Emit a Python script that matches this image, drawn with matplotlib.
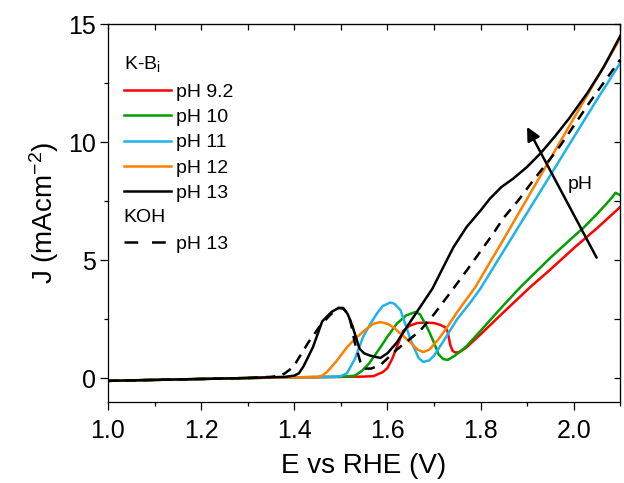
import matplotlib
matplotlib.use("Agg")
import matplotlib.pyplot as plt
from matplotlib.lines import Line2D
from matplotlib.ticker import MultipleLocator

plt.rcParams['font.family'] = ['Liberation Sans', 'DejaVu Sans']
plt.rcParams['mathtext.fontset'] = 'custom'
plt.rcParams['mathtext.rm'] = 'Liberation Sans'
plt.rcParams['mathtext.it'] = 'Liberation Sans'

# ---------------- data ----------------
E_red = [1.00, 1.10, 1.20, 1.30, 1.40, 1.50, 1.55, 1.57, 1.59, 1.60, 1.61, 1.624, 1.634, 1.648,
         1.664, 1.68, 1.70, 1.714, 1.724, 1.729, 1.735, 1.74, 1.746, 1.755, 1.77, 1.80, 1.85,
         1.907, 1.95, 2.00, 2.05, 2.10]
J_red = [-0.12, -0.08, -0.04, 0.0, 0.03, 0.05, 0.06, 0.08, 0.25, 0.42, 0.8, 1.5, 2.0, 2.22,
         2.33, 2.35, 2.33, 2.25, 2.15, 2.0, 1.4, 1.15, 1.08, 1.1, 1.3, 1.85, 2.8,
         3.86, 4.6, 5.5, 6.35, 7.25]

E_green = [1.00, 1.10, 1.20, 1.30, 1.40, 1.50, 1.53, 1.545, 1.56, 1.585, 1.60, 1.62, 1.64, 1.66,
           1.67, 1.68, 1.69, 1.70, 1.71, 1.72, 1.73, 1.745, 1.77, 1.80, 1.85, 1.886, 1.95,
           2.00, 2.02, 2.05, 2.08, 2.09, 2.10]
J_green = [-0.12, -0.08, -0.04, 0.0, 0.03, 0.05, 0.1, 0.3, 0.6, 1.3, 1.75, 2.3, 2.65, 2.8,
           2.7, 2.35, 1.95, 1.5, 1.0, 0.8, 0.77, 0.95, 1.35, 2.0, 3.1, 3.86, 5.1,
           6.0, 6.35, 6.95, 7.6, 7.85, 7.75]

E_blue = [1.00, 1.10, 1.20, 1.30, 1.40, 1.49, 1.50, 1.513, 1.53, 1.548, 1.565, 1.578, 1.59, 1.606,
          1.615, 1.628, 1.64, 1.65, 1.667, 1.677, 1.69, 1.70, 1.72, 1.75, 1.78, 1.80, 1.85,
          1.90, 1.95, 2.00, 2.05, 2.10]
J_blue = [-0.12, -0.08, -0.04, 0.0, 0.03, 0.05, 0.08, 0.2, 0.8, 1.75, 2.35, 2.75, 3.05, 3.2,
          3.15, 2.88, 2.2, 1.6, 0.85, 0.68, 0.75, 0.95, 1.55, 2.5, 3.25, 3.8, 5.4,
          7.0, 8.6, 10.2, 11.8, 13.35]

E_orange = [1.00, 1.10, 1.20, 1.30, 1.40, 1.45, 1.46, 1.47, 1.49, 1.513, 1.53, 1.55, 1.57, 1.585,
            1.60, 1.613, 1.63, 1.65, 1.665, 1.677, 1.69, 1.71, 1.73, 1.75, 1.789, 1.85, 1.90,
            1.95, 2.00, 2.05, 2.10]
J_orange = [-0.12, -0.08, -0.04, 0.0, 0.03, 0.04, 0.1, 0.25, 0.7, 1.3, 1.65, 2.0, 2.3, 2.37,
            2.3, 2.15, 1.85, 1.5, 1.2, 1.1, 1.2, 1.65, 2.2, 2.8, 3.86, 5.9, 7.6,
            9.3, 11.0, 12.7, 14.4]

E_black = [1.00, 1.10, 1.20, 1.30, 1.38, 1.40, 1.41, 1.42, 1.44, 1.46, 1.48, 1.495, 1.505, 1.515,
           1.525, 1.54, 1.55, 1.563, 1.585, 1.60, 1.62, 1.643, 1.67, 1.697, 1.72, 1.742, 1.77,
           1.80, 1.82, 1.845, 1.87, 1.90, 1.93, 1.96, 1.99, 2.03, 2.065, 2.10]
J_black = [-0.12, -0.08, -0.04, 0.0, 0.05, 0.1, 0.2, 0.5, 1.3, 2.4, 2.8, 2.97, 2.97, 2.7,
           2.2, 1.25, 1.05, 0.95, 0.85, 1.05, 1.5, 2.2, 3.0, 3.8, 4.7, 5.55, 6.4,
           7.1, 7.6, 8.1, 8.45, 8.95, 9.55, 10.25, 11.0, 12.1, 13.2, 14.5]

E_koh = [1.00, 1.10, 1.20, 1.30, 1.35, 1.37, 1.38, 1.398, 1.43, 1.455, 1.477, 1.495, 1.505, 1.512,
         1.52, 1.53, 1.542, 1.553, 1.565, 1.585, 1.62, 1.67, 1.70, 1.742, 1.774, 1.825, 1.85,
         1.88, 1.914, 1.95, 1.972, 2.033, 2.10]
J_koh = [-0.12, -0.08, -0.04, 0.0, 0.05, 0.1, 0.2, 0.47, 1.5, 2.2, 2.67, 2.97, 2.95, 2.8,
         2.46, 1.5, 0.68, 0.4, 0.4, 0.55, 1.2, 2.0, 2.7, 3.8, 4.66, 6.06, 6.8,
         7.5, 8.4, 9.3, 9.87, 11.65, 13.5]

labels = ["pH 9.2", "pH 10", "pH 11", "pH 12", "pH 13"]
koh_label = "pH 13"
colors = ["#FF0000", "#00A000", "#1EB4EA", "#FF8000", "#000000"]

arrow_tail = (2.052, 5.0)
arrow_head = (1.897, 10.75)
ph_text_pos = (2.015, 8.2)

# ---------------- figure ----------------
fig = plt.figure(figsize=(6.24, 4.83), dpi=100)
ax = fig.add_axes([0.173, 0.1685, 0.821, 0.7815])

LW = 1.8
series = [(E_red, J_red), (E_green, J_green), (E_blue, J_blue), (E_orange, J_orange), (E_black, J_black)]
handles = []
for (e, j), c, lab in zip(series, colors, labels):
    h, = ax.plot(e, j, color=c, lw=LW, label=lab, solid_joinstyle='round')
    handles.append(h)
hk, = ax.plot(E_koh, J_koh, color='black', lw=LW, dashes=(4.0, 3.0), label=koh_label)
hk_leg = Line2D([], [], color='black', lw=LW, dashes=(5.5, 5.5))

ax.set_xlim(1.0, 2.1)
ax.set_ylim(-1, 15)

for s in ax.spines.values():
    s.set_linewidth(0.9)

ax.xaxis.set_major_locator(MultipleLocator(0.2))
ax.xaxis.set_minor_locator(MultipleLocator(0.1))
ax.yaxis.set_major_locator(MultipleLocator(5))
ax.yaxis.set_minor_locator(MultipleLocator(2.5))
ax.tick_params(which='major', direction='out', length=5.5, width=0.9, labelsize=18, pad=3)
ax.tick_params(axis='x', which='major', pad=7)
ax.tick_params(which='minor', direction='out', length=3, width=0.9)
ax.set_xticklabels([f"{v:.1f}" for v in ax.get_xticks()])

secx = ax.secondary_xaxis('top')
secx.xaxis.set_major_locator(MultipleLocator(0.1))
secx.tick_params(direction='in', length=4.5, width=0.9, labeltop=False)
secy = ax.secondary_yaxis('right')
secy.yaxis.set_major_locator(MultipleLocator(2.5))
secy.tick_params(direction='in', length=4.5, width=0.9, labelright=False)

ax.set_xlabel("E vs RHE (V)", fontsize=20, labelpad=7)
ax.set_ylabel("J (mAcm$^{-2}$)", fontsize=20, labelpad=5)

# legend
blank = Line2D([], [], linestyle='none')
leg = ax.legend(handles + [blank, hk_leg], labels + ["", koh_label],
                loc='upper left', bbox_to_anchor=(0.031, 0.844), frameon=False,
                fontsize=14, handlelength=2.42, handletextpad=0.26, labelspacing=0.4,
                borderaxespad=0.0, borderpad=0.0)
ax.text(0.031, 0.894, "K-B$_\\mathregular{i}$", transform=ax.transAxes, fontsize=14, va='center', ha='left')
ax.text(0.031, 0.489, "KOH", transform=ax.transAxes, fontsize=14, va='center', ha='left')

ax.annotate("", xy=arrow_head, xytext=arrow_tail,
            arrowprops=dict(arrowstyle='-|>', color='black', lw=1.8, mutation_scale=20))
ax.text(ph_text_pos[0], ph_text_pos[1], "pH", fontsize=14, ha='center', va='center')

fig.savefig("out.png", dpi=100)
